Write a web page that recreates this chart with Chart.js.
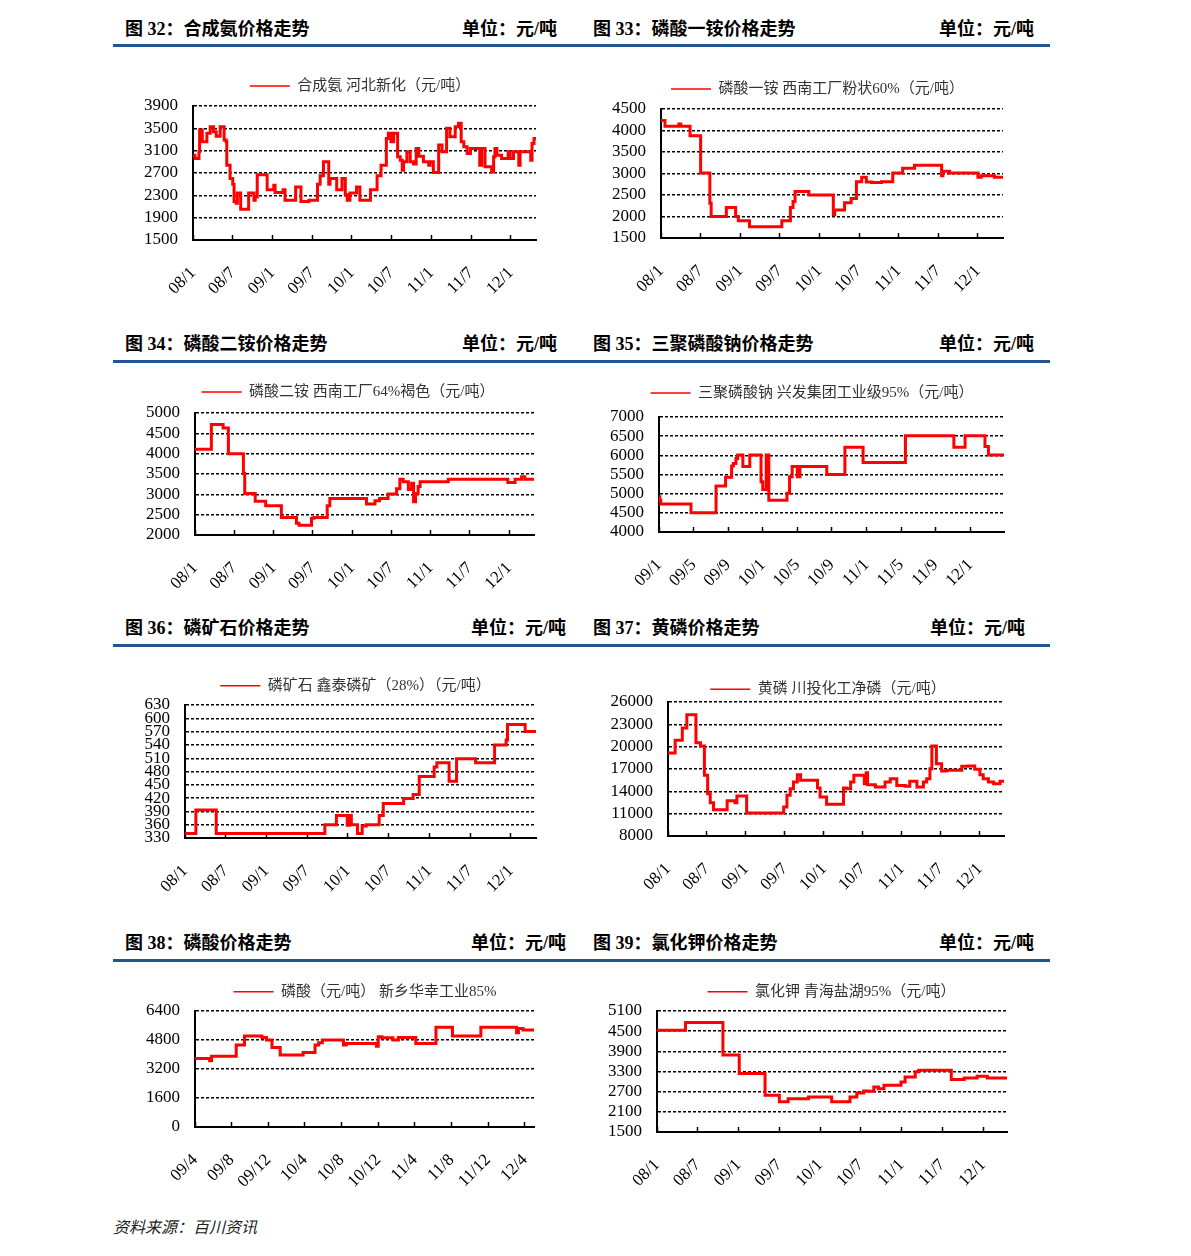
<!DOCTYPE html>
<html>
<head>
<meta charset="utf-8">
<script src="https://cdn.jsdelivr.net/npm/chart.js@4.4.1/dist/chart.umd.min.js"></script>
<style>
body { margin: 0; background: #fff; width: 1191px; height: 1256px; position: relative; overflow: hidden; }
.hd { position: absolute; font: bold 18px "Liberation Serif", "Noto Sans CJK SC"; color: #000; line-height: 22px; white-space: nowrap; }
.rule { position: absolute; left: 113px; width: 937px; height: 3px; background: #20558f; }
.src { position: absolute; left: 113px; top: 1216px; font: italic 16px "Noto Sans CJK SC"; line-height: 20px; color: #222; }
canvas { position: absolute; }
</style>
</head>
<body>
<div class="hd" style="left:125px;top:18px">图 32：合成氨价格走势</div>
<div class="hd" style="right:634px;top:18px">单位：元/吨</div>
<div class="hd" style="left:593px;top:18px">图 33：磷酸一铵价格走势</div>
<div class="hd" style="right:157px;top:18px">单位：元/吨</div>
<div class="rule" style="top:44px"></div>

<div class="hd" style="left:125px;top:333px">图 34：磷酸二铵价格走势</div>
<div class="hd" style="right:634px;top:333px">单位：元/吨</div>
<div class="hd" style="left:593px;top:333px">图 35：三聚磷酸钠价格走势</div>
<div class="hd" style="right:157px;top:333px">单位：元/吨</div>
<div class="rule" style="top:360px"></div>

<div class="hd" style="left:125px;top:617px">图 36：磷矿石价格走势</div>
<div class="hd" style="right:625px;top:617px">单位：元/吨</div>
<div class="hd" style="left:593px;top:617px">图 37：黄磷价格走势</div>
<div class="hd" style="right:166px;top:617px">单位：元/吨</div>
<div class="rule" style="top:644px"></div>

<div class="hd" style="left:125px;top:932px">图 38：磷酸价格走势</div>
<div class="hd" style="right:625px;top:932px">单位：元/吨</div>
<div class="hd" style="left:593px;top:932px">图 39：氯化钾价格走势</div>
<div class="hd" style="right:157px;top:932px">单位：元/吨</div>
<div class="rule" style="top:959px"></div>

<div class="src">资料来源：百川资讯</div>

<script>
// x values are months counted from the first tick label, each price holds until the next change
var ticks08 = ['08/1', '08/7', '09/1', '09/7', '10/1', '10/7', '11/1', '11/7', '12/1'];
var ticks09 = ['09/1', '09/5', '09/9', '10/1', '10/5', '10/9', '11/1', '11/5', '11/9', '12/1'];
var ticks09b = ['09/4', '09/8', '09/12', '10/4', '10/8', '10/12', '11/4', '11/8', '11/12', '12/4'];

// 合成氨 河北新化
var ammoniaMonth = [
  0, 0.3, 0.9, 1.0, 1.4, 2.1, 2.6, 3.1, 3.5, 4.1,
  4.7, 5.0, 5.1, 5.6, 6.0, 6.2, 6.5, 6.7, 7.2, 8.4,
  9.2, 9.4, 9.7, 11.2, 12.2, 12.4, 13.6, 13.9, 15.5, 16.3,
  17.5, 18.8, 19.2, 19.7, 20.5, 20.7, 21.7, 22.5, 23.0, 23.3,
  23.7, 24.7, 25.2, 26.8, 27.8, 28.4, 29.2, 29.5, 29.9, 30.3,
  30.9, 31.3, 31.6, 31.8, 32.3, 32.8, 33.3, 33.7, 34.1, 34.8,
  35.6, 35.8, 36.3, 37.1, 37.6, 38.3, 38.8, 39.6, 40.1, 40.5,
  40.9, 41.4, 41.9, 43.3, 43.6, 44.1, 45.1, 45.4, 45.6, 45.9,
  46.6, 47.6, 47.9, 48.4, 49.2, 49.4, 51.0, 51.2, 51.5, 51.8
];
var ammoniaPrice = [
  3020, 2960, 3080, 3470, 3260, 3410, 3530, 3440, 3360, 3530,
  3290, 3260, 2840, 2600, 2500, 2190, 2160, 2340, 2050, 2340,
  2210, 2270, 2670, 2400, 2480, 2350, 2400, 2210, 2450, 2190,
  2210, 2500, 2650, 2900, 2500, 2600, 2400, 2600, 2310, 2210,
  2340, 2450, 2210, 2400, 2650, 2840, 3320, 3410, 3260, 3410,
  2990, 2930, 2750, 2900, 3080, 2900, 2860, 3140, 3000, 2900,
  2840, 2900, 2710, 3200, 3080, 3500, 3350, 3530, 3590, 3260,
  3170, 3050, 3140, 2840, 3140, 2810, 2720, 2990, 3140, 3020,
  2960, 3080, 2960, 3080, 2840, 3080, 2930, 3230, 3320, 3320
];

// 磷酸一铵 西南工厂粉状60%
var mapMonth = [
  0, 0.6, 2.7, 3.0, 4.4, 6.0, 7.4, 7.6, 9.9, 11.3,
  11.7, 13.4, 18.3, 19.6, 20.0, 20.3, 22.4, 26.1, 26.3, 27.8,
  28.8, 29.6, 30.4, 31.1, 31.9, 33.4, 35.1, 36.6, 38.4, 42.5,
  42.7, 43.7, 48.0, 48.5, 50.5, 51.8
];
var mapPrice = [
  4230, 4100, 4150, 4100, 3880, 3010, 2310, 2000, 2210, 2000,
  1900, 1760, 1900, 2210, 2350, 2580, 2500, 2040, 2150, 2320,
  2420, 2810, 2910, 2800, 2790, 2810, 3010, 3120, 3190, 2950,
  3050, 3010, 2910, 2950, 2910, 2910
];

// 磷酸二铵 西南工厂64%褐色
var dapMonth = [
  0, 2.5, 4.3, 5.1, 7.4, 7.6, 9.2, 10.8, 13.2, 15.5,
  15.9, 17.8, 18.2, 20.2, 20.6, 26.2, 27.5, 28.2, 29.5, 30.8,
  31.3, 31.8, 32.6, 33.1, 33.4, 33.7, 34.1, 34.4, 38.7, 47.8,
  48.9, 49.9, 50.4, 51.8
];
var dapPrice = [
  4110, 4720, 4630, 4000, 3510, 3020, 2830, 2720, 2430, 2290,
  2240, 2410, 2430, 2720, 2900, 2760, 2840, 2900, 3010, 3140,
  3370, 3310, 3120, 3270, 2820, 3020, 3190, 3310, 3370, 3290,
  3370, 3430, 3370, 3370
];

// 三聚磷酸钠 兴发集团工业级95%
var stppMonth = [
  0, 0.1, 0.2, 3.7, 6.6, 7.7, 8.4, 8.6, 8.9, 9.1,
  9.7, 10.5, 11.8, 12.0, 12.4, 12.7, 14.8, 15.1, 15.4, 16.0,
  16.3, 19.4, 21.5, 23.6, 28.5, 34.1, 35.4, 37.7, 38.1, 39.9
];
var stppPrice = [
  4920, 4830, 4730, 4500, 5200, 5430, 5720, 5790, 5920, 6010,
  5710, 6010, 5310, 5110, 6010, 4830, 5010, 5440, 5710, 5440,
  5710, 5500, 6210, 5810, 6510, 6210, 6510, 6230, 6010, 6010
];

// 磷矿石 鑫泰磷矿（28%）
var rockMonth = [
  0, 1.6, 4.6, 20.6, 22.3, 23.9, 24.2, 24.5, 25.4, 26.1,
  26.7, 28.6, 29.2, 32.2, 33.6, 34.5, 36.7, 37.1, 38.9, 40.0,
  42.8, 45.6, 47.3, 47.5, 50.1, 51.7
];
var rockPrice = [
  340, 393, 340, 360, 381, 359, 381, 360, 340, 357,
  360, 381, 408, 419, 428, 469, 490, 500, 458, 509,
  500, 540, 551, 586, 570, 570
];

// 黄磷 川投化工净磷
var p4Month = [
  0, 1.1, 2.2, 2.9, 4.3, 5.0, 5.6, 6.1, 6.5, 7.0,
  9.1, 10.3, 10.6, 12.1, 17.8, 18.3, 18.8, 19.3, 19.9, 20.4,
  23.0, 23.4, 24.4, 27.0, 27.5, 28.1, 28.6, 30.2, 30.5, 30.7,
  31.9, 33.4, 34.2, 35.2, 36.5, 37.2, 38.3, 39.3, 39.8, 40.3,
  40.6, 41.3, 42.1, 42.9, 45.2, 46.2, 47.2, 48.0, 48.5, 49.3,
  50.1, 51.1, 51.7
];
var p4Price = [
  19150, 20850, 22510, 24300, 20540, 20090, 16150, 13690, 12480, 11540,
  12750, 12480, 13370, 11090, 11900, 13460, 14360, 15250, 16240, 15480,
  14450, 13240, 12250, 14450, 14360, 15250, 16150, 15030, 16510, 14900,
  14580, 15250, 15700, 14800, 14670, 15340, 14580, 15250, 15700, 17040,
  20090, 17720, 16730, 16820, 17360, 17400, 16960, 16240, 15700, 15250,
  15030, 15340, 15340
];

// 磷酸 新乡华幸工业85%
var acidMonth = [
  0, 1.6, 1.8, 4.5, 5.4, 7.3, 7.8, 8.4, 9.3, 11.8,
  13.1, 13.5, 13.9, 16.2, 16.5, 19.8, 20.0, 20.4, 21.6, 22.2,
  24.1, 26.3, 28.1, 31.2, 35.1, 35.3, 35.8, 37.0
];
var acidPrice = [
  3780, 3650, 3910, 4520, 5020, 4940, 4800, 4390, 3970, 4110,
  4520, 4650, 4800, 4520, 4610, 4460, 4980, 4920, 4800, 4940,
  4610, 5500, 5020, 5500, 5200, 5440, 5350, 5350
];

// 氯化钾 青海盐湖95%
var kclMonth = [
  0, 4.2, 9.7, 12.1, 15.9, 18.0, 19.3, 22.3, 25.7, 28.4,
  29.4, 30.4, 31.1, 31.9, 32.6, 33.4, 35.9, 36.5, 38.0, 38.5,
  43.3, 45.2, 47.1, 48.6, 51.5
];
var kclPrice = [
  4530, 4760, 3790, 3240, 2590, 2400, 2490, 2540, 2400, 2540,
  2660, 2720, 2710, 2840, 2790, 2890, 2990, 3140, 3290, 3340,
  3060, 3110, 3160, 3110, 3110
];

var FONT = '"Liberation Serif", "Noto Sans CJK SC", serif';

// plot box of each panel on the page, legend centre and legend-to-plot gap
function drawPanel(p, s)
{
  var yw = 60, top = 40, xh = 75, fs = 15, lp = 6;
  var cl = Math.round(p.pl) - yw;
  var ct = Math.round(p.pt) - top;
  var cr = Math.round(2 * p.c) - cl;
  var w = cr - cl;
  var h = Math.round(p.pb) - ct + xh;
  var rightGap = cr - Math.round(p.pr);

  var cv = document.createElement('canvas');
  cv.width = w;
  cv.height = h;
  cv.style.left = cl + 'px';
  cv.style.top = ct + 'px';
  document.body.appendChild(cv);

  var points = [];
  for (var i = 0; i < s.x.length; i++) {
    points.push({x: s.x[i], y: s.y[i]});
  }
  var spacer = p.gap - (fs / 2 + 10);

  new Chart(cv.getContext('2d'), {
    type: 'line',
    data: {
      datasets: [{
        label: s.label,
        data: points,
        borderColor: '#ff0000',
        backgroundColor: '#ff0000',
        borderWidth: 3,
        pointRadius: 0,
        stepped: true,
        fill: false
      }]
    },
    options: {
      responsive: false,
      animation: false,
      layout: { padding: { top: top - p.gap - lp - fs / 2, left: 0, right: 0, bottom: 0 } },
      plugins: {
        legend: {
          position: 'top',
          maxHeight: p.gap + lp + fs / 2,
          labels: {
            usePointStyle: true,
            pointStyle: 'line',
            pointStyleWidth: 40,
            padding: lp,
            color: '#333',
            font: { size: fs, family: FONT },
            generateLabels: function(chart) {
              return Chart.defaults.plugins.legend.labels.generateLabels(chart).map(function(l) {
                l.lineWidth = 1.5;
                return l;
              });
            }
          }
        },
        title: {
          display: spacer > 0,
          text: '',
          weight: 500,
          padding: 0,
          font: { size: Math.max(spacer, 0.1), lineHeight: 1 }
        },
        tooltip: { enabled: false }
      },
      scales: {
        x: {
          type: 'linear',
          min: 0,
          max: s.xMax,
          afterBuildTicks: function(sc) {
            sc.ticks = s.ticks.map(function(t, i) { return {value: i * s.step}; });
          },
          afterFit: function(sc) {
            sc.height = xh;
            sc.paddingLeft = 0;
            sc.paddingRight = rightGap;
          },
          grid: { drawOnChartArea: false, drawTicks: true, tickLength: -5, color: '#000', tickWidth: 1.5 },
          border: { display: true, color: '#000', width: 2 },
          ticks: {
            autoSkip: false,
            minRotation: 45,
            maxRotation: 45,
            padding: 28,
            color: '#000',
            font: { size: 17, family: FONT },
            callback: function(v, i) { return s.ticks[i]; }
          }
        },
        y: {
          min: s.yMin,
          max: s.yMax,
          afterFit: function(sc) { sc.width = yw; },
          grid: { color: '#000', lineWidth: 1.4, drawTicks: false },
          border: { display: true, color: '#000', width: 2, dash: [3, 2] },
          ticks: {
            stepSize: s.yStep,
            autoSkip: false,
            padding: 15,
            color: '#000',
            font: { size: 17, family: FONT },
            callback: function(v) { return String(v); }
          }
        }
      }
    }
  });
}

function initPage()
{
  drawPanel({pl: 192.7, pr: 536, pt: 106, pb: 240, c: 360, gap: 20},
    {label: '合成氨 河北新化（元/吨）', x: ammoniaMonth, y: ammoniaPrice, ticks: ticks08, step: 6, xMax: 51.8, yMin: 1500, yMax: 3900, yStep: 400});
  drawPanel({pl: 661, pr: 1003.3, pt: 109.3, pb: 238, c: 817.5, gap: 20},
    {label: '磷酸一铵 西南工厂粉状60%（元/吨）', x: mapMonth, y: mapPrice, ticks: ticks08, step: 6, xMax: 51.8, yMin: 1500, yMax: 4500, yStep: 500});
  drawPanel({pl: 195, pr: 534, pt: 412.7, pb: 535, c: 347.8, gap: 21},
    {label: '磷酸二铵 西南工厂64%褐色（元/吨）', x: dapMonth, y: dapPrice, ticks: ticks08, step: 6, xMax: 51.8, yMin: 2000, yMax: 5000, yStep: 500});
  drawPanel({pl: 659.3, pr: 1004.3, pt: 417.3, pb: 531.7, c: 812.2, gap: 24},
    {label: '三聚磷酸钠 兴发集团工业级95%（元/吨）', x: stppMonth, y: stppPrice, ticks: ticks09, step: 4, xMax: 39.9, yMin: 4000, yMax: 7000, yStep: 500});
  drawPanel({pl: 185, pr: 536, pt: 705, pb: 837.7, c: 355.5, gap: 19.3},
    {label: '磷矿石 鑫泰磷矿（28%）（元/吨）', x: rockMonth, y: rockPrice, ticks: ticks08, step: 6, xMax: 51.7, yMin: 330, yMax: 630, yStep: 30});
  drawPanel({pl: 667.7, pr: 1004, pt: 701.7, pb: 835.7, c: 828, gap: 12.7},
    {label: '黄磷 川投化工净磷（元/吨）', x: p4Month, y: p4Price, ticks: ticks08, step: 6, xMax: 51.7, yMin: 8000, yMax: 26000, yStep: 3000});
  drawPanel({pl: 195, pr: 534, pt: 1011, pb: 1126.7, c: 365, gap: 19.3},
    {label: '磷酸（元/吨） 新乡华幸工业85%', x: acidMonth, y: acidPrice, ticks: ticks09b, step: 4, xMax: 37.0, yMin: 0, yMax: 6400, yStep: 1600});
  drawPanel({pl: 657.3, pr: 1006.7, pt: 1011, pb: 1131.7, c: 831.3, gap: 19.3},
    {label: '氯化钾 青海盐湖95%（元/吨）', x: kclMonth, y: kclPrice, ticks: ticks08, step: 6, xMax: 51.5, yMin: 1500, yMax: 5100, yStep: 600});
}

initPage();
</script>
</body>
</html>
